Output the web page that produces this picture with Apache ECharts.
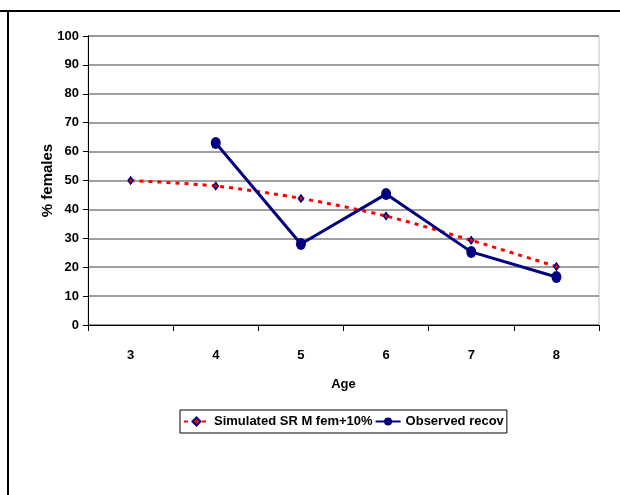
<!DOCTYPE html>
<html>
<head>
<meta charset="utf-8">
<script src="https://cdn.jsdelivr.net/npm/echarts@6/dist/echarts.min.js"></script>
<style>html,body{margin:0;padding:0;background:#fff;}#c{width:620px;height:495px;}</style>
</head>
<body>
<div id="c"></div>
<script>
var ages = ['3', '4', '5', '6', '7', '8'];
var simulated = [50, 48.1, 43.8, 37.7, 29.3, 20.2];
var observed = [null, 63, 28, 45.3, 25.3, 16.6];
var yTicks = [0, 10, 20, 30, 40, 50, 60, 70, 80, 90, 100];

var chart = echarts.init(document.getElementById('c'), null, {renderer: 'canvas'});
var font = '"Liberation Sans", Arial, sans-serif';
chart.setOption({
  animation: false,
  backgroundColor: '#ffffff',
  graphic: [
    {type: 'line', shape: {x1: 0, y1: 11, x2: 620, y2: 11}, style: {stroke: '#000', lineWidth: 2}},
    {type: 'line', shape: {x1: 8, y1: 11, x2: 8, y2: 495}, style: {stroke: '#000', lineWidth: 2}}
  ],
  grid: {left: 88, right: 21, top: 36, bottom: 170, show: true, borderColor: '#c0c0c0', borderWidth: 1},
  legend: {
    left: 180, top: 410,
    itemWidth: 25, itemHeight: 10, itemGap: 2,
    borderColor: '#000', borderWidth: 1, padding: [5, 3, 5, 3],
    textStyle: {fontFamily: font, fontWeight: 'bold', fontSize: 13, color: '#000'},
    data: ['Simulated SR M fem+10%', 'Observed recov']
  },
  xAxis: {
    type: 'category', data: ages, boundaryGap: true,
    name: 'Age', nameLocation: 'middle', nameGap: 53,
    nameTextStyle: {fontFamily: font, fontWeight: 'bold', fontSize: 13, color: '#000'},
    axisLine: {lineStyle: {color: '#000', width: 1}},
    axisTick: {show: true, length: 6, lineStyle: {color: '#000'}},
    axisLabel: {fontFamily: font, fontWeight: 'bold', fontSize: 13, color: '#000', margin: 24},
    splitLine: {show: false}
  },
  yAxis: {
    type: 'value', min: yTicks[0], max: yTicks[yTicks.length - 1], interval: 10,
    name: '% females', nameLocation: 'middle', nameGap: 33, nameRotate: 90, nameMoveOverlap: false,
    nameTextStyle: {fontFamily: font, fontWeight: 'bold', fontSize: 15, color: '#000'},
    axisLine: {show: true, lineStyle: {color: '#000', width: 1}},
    axisTick: {show: true, length: 5, lineStyle: {color: '#000'}},
    axisLabel: {fontFamily: font, fontWeight: 'bold', fontSize: 13, color: '#000', margin: 9},
    splitLine: {show: true, lineStyle: {color: '#808080', width: 1.5}}
  },
  series: [
    {
      name: 'Simulated SR M fem+10%', type: 'line', data: simulated, smooth: 0.3,
      symbol: 'diamond', symbolSize: [5, 7],
      lineStyle: {color: '#ff0000', width: 3, type: [4, 5]},
      itemStyle: {color: '#ff0000', borderColor: '#000080', borderWidth: 1.5},
      z: 2
    },
    {
      name: 'Observed recov', type: 'line', data: observed, connectNulls: false,
      symbol: 'circle', symbolSize: [10, 12],
      lineStyle: {color: '#000080', width: 3},
      itemStyle: {color: '#000080'},
      z: 3
    }
  ]
});
</script>
</body>
</html>
